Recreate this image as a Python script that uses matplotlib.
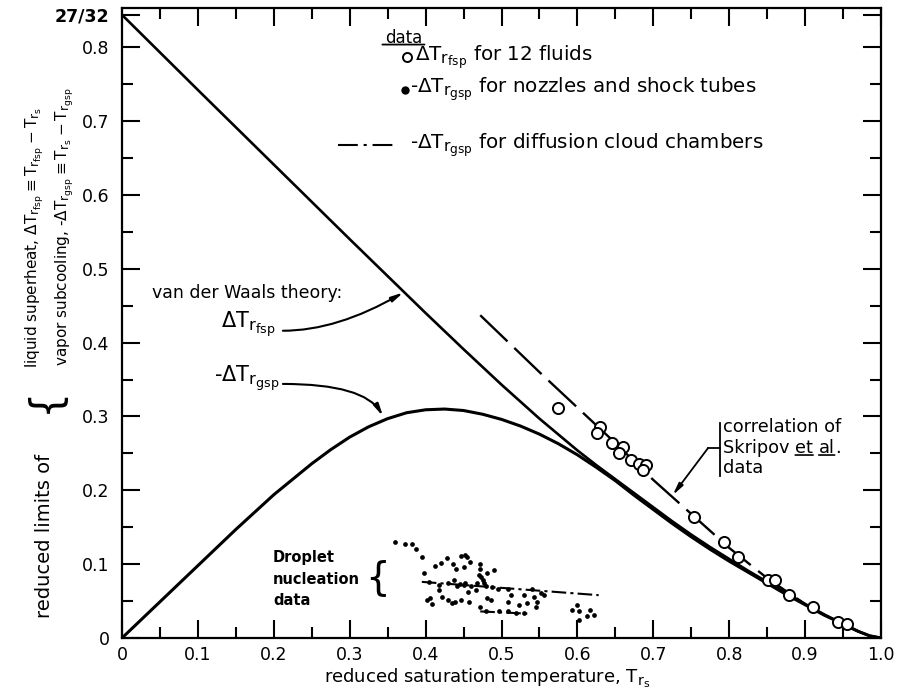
import numpy as np
import matplotlib.pyplot as plt
import matplotlib._mathtext as mathtext_impl

plt.rcParams['font.family'] = 'DejaVu Sans'
plt.rcParams['mathtext.default'] = 'regular'
# the original lettering uses large second-level subscripts
mathtext_impl.SHRINK_FACTOR = 0.78

# van der Waals theory
t_liq = [0, 0.1, 0.2, 0.3, 0.4, 0.45, 0.5, 0.55, 0.6, 0.625, 0.65, 0.675, 0.7, 0.725, 0.75, 0.775,
         0.8, 0.825, 0.85, 0.875, 0.9, 0.925, 0.95, 0.97, 0.985, 1.0]
dT_liq = [0.84375, 0.742, 0.641, 0.540, 0.440, 0.391, 0.343, 0.297, 0.254, 0.234, 0.215, 0.196,
          0.177, 0.158, 0.140, 0.123, 0.107, 0.091, 0.076, 0.061, 0.046, 0.032, 0.019, 0.009,
          0.003, 0.0]
t_vap = [0, 0.05, 0.1, 0.15, 0.2, 0.225, 0.25, 0.275, 0.3, 0.325, 0.35, 0.375, 0.4, 0.425, 0.45,
         0.475, 0.5, 0.525, 0.55, 0.575, 0.6, 0.625, 0.65, 0.675, 0.7, 0.725, 0.75, 0.775, 0.8,
         0.825, 0.85, 0.875, 0.9, 0.925, 0.95, 0.97, 0.985, 1.0]
dT_vap = [0, 0.049, 0.098, 0.147, 0.194, 0.215, 0.236, 0.255, 0.272, 0.286, 0.297, 0.305, 0.309,
          0.310, 0.308, 0.303, 0.296, 0.287, 0.276, 0.263, 0.248, 0.231, 0.213, 0.193, 0.174,
          0.155, 0.137, 0.120, 0.104, 0.089, 0.074, 0.059, 0.045, 0.031, 0.019, 0.009, 0.003, 0.0]

# correlation of Skripov et al. data
t_corr = [0.472, 0.55, 0.60, 0.65, 0.70, 0.75, 0.80, 0.85, 0.90, 0.94, 0.97]
dT_corr = [0.437, 0.360, 0.312, 0.264, 0.214, 0.168, 0.122, 0.081, 0.046, 0.023, 0.009]

# superheat data for 12 fluids
fluid_t = [0.574, 0.630, 0.626, 0.645, 0.660, 0.655, 0.670, 0.681, 0.690, 0.686,
           0.754, 0.793, 0.811, 0.851, 0.860, 0.879, 0.911, 0.943, 0.955]
fluid_dT = [0.312, 0.286, 0.278, 0.264, 0.259, 0.251, 0.241, 0.235, 0.234, 0.228,
            0.164, 0.130, 0.110, 0.079, 0.078, 0.058, 0.042, 0.021, 0.019]

# droplet nucleation data (nozzles and shock tubes)
drop_t = [0.360, 0.373, 0.382, 0.388, 0.395, 0.398, 0.413, 0.420, 0.428, 0.436, 0.446, 0.452, 0.455,
          0.459, 0.450, 0.440, 0.472, 0.481, 0.490, 0.475, 0.477, 0.470, 0.472, 0.473,
          0.405, 0.418, 0.430, 0.437, 0.445, 0.452, 0.460, 0.468, 0.480, 0.488,
          0.417, 0.442, 0.450, 0.466, 0.456, 0.406, 0.402, 0.409, 0.422, 0.430, 0.439, 0.446,
          0.457, 0.435, 0.481, 0.486, 0.472, 0.496, 0.509, 0.512, 0.508, 0.523, 0.534, 0.540,
          0.529, 0.543, 0.547, 0.556, 0.545, 0.552, 0.480, 0.497, 0.508, 0.519, 0.530,
          0.600, 0.593, 0.602, 0.617, 0.613, 0.622, 0.602]
drop_dT = [0.130, 0.127, 0.127, 0.121, 0.110, 0.088, 0.097, 0.101, 0.108, 0.100, 0.111, 0.113, 0.110,
           0.103, 0.096, 0.094, 0.094, 0.088, 0.092, 0.079, 0.074, 0.085, 0.100, 0.083,
           0.076, 0.072, 0.074, 0.078, 0.073, 0.075, 0.071, 0.075, 0.070, 0.069,
           0.065, 0.070, 0.072, 0.065, 0.062, 0.054, 0.051, 0.046, 0.056, 0.051, 0.049, 0.051,
           0.049, 0.047, 0.054, 0.052, 0.042, 0.067, 0.067, 0.058, 0.049, 0.045, 0.047, 0.067,
           0.058, 0.056, 0.049, 0.058, 0.042, 0.061, 0.036, 0.036, 0.036, 0.034, 0.034,
           0.045, 0.038, 0.037, 0.038, 0.030, 0.031, 0.024]

# diffusion cloud chamber lines
cloud1_t = [0.395, 0.628]
cloud1_dT = [0.076, 0.058]
cloud2_t = [0.472, 0.534]
cloud2_dT = [0.036, 0.033]

x_ticks = [0, 0.1, 0.2, 0.3, 0.4, 0.5, 0.6, 0.7, 0.8, 0.9, 1.0]
x_labels = ['0', '0.1', '0.2', '0.3', '0.4', '0.5', '0.6', '0.7', '0.8', '0.9', '1.0']
y_ticks = [0, 0.1, 0.2, 0.3, 0.4, 0.5, 0.6, 0.7, 0.8, 27 / 32]
y_labels = ['0', '0.1', '0.2', '0.3', '0.4', '0.5', '0.6', '0.7', '0.8', '27/32']

W, H = 900, 695
fig = plt.figure(figsize=(9, 6.95), dpi=100)
ax = fig.add_axes([122 / W, 1 - 638 / H, (881 - 122) / W, (638 - 8) / H])

ax.plot(t_liq, dT_liq, color='k', lw=1.9)
ax.plot(t_vap, dT_vap, color='k', lw=2.2)
ax.plot(t_corr, dT_corr, color='k', lw=1.7, dashes=(16, 4))
ax.plot(fluid_t, fluid_dT, 'o', mfc='white', mec='k', ms=8, mew=1.4)
ax.plot(cloud1_t, cloud1_dT, color='k', lw=1.5, dashes=(7, 2, 1.5, 2))
ax.plot(cloud2_t, cloud2_dT, color='k', lw=1.5, dashes=(7, 2, 1.5, 2))
ax.plot(drop_t, drop_dT, 'o', color='k', ms=3.4, mew=0)

ax.set_xlim(0, 1.0)
ax.set_ylim(0, 0.853)
ax.set_xticks(x_ticks)
ax.set_xticklabels(x_labels)
ax.set_xticks(np.arange(0.05, 1.0, 0.1), minor=True)
ax.set_yticks(y_ticks)
ax.set_yticklabels(y_labels)
ax.set_yticks(np.arange(0.05, 0.8, 0.1), minor=True)
ax.get_yticklabels()[-1].set_fontweight('bold')
ax.tick_params(which='both', direction='in', top=True, right=True, width=1.5, labelsize=12.5)
ax.tick_params(which='major', length=13)
ax.tick_params(which='minor', length=8)
ax.tick_params(axis='x', pad=6)
ax.tick_params(axis='y', pad=9)
for s in ax.spines.values():
    s.set_linewidth(1.6)

ax.set_xlabel(r'reduced saturation temperature, $T_{r_s}$', fontsize=13)
ax.xaxis.set_label_coords((487 - 122) / 759, -0.045)

# y label with brace
fig.text(50 / W, 1 - 618 / H, 'reduced limits of', rotation=90, rotation_mode='anchor',
         ha='left', va='baseline', fontsize=14)
fig.text(45 / W, 1 - 400 / H, '{', rotation=90, ha='center', va='center', fontsize=30)
fig.text(37 / W, 1 - 368 / H, r'liquid superheat, $\Delta T_{r_{fsp}} \equiv T_{r_{fsp}} - T_{r_s}$',
         rotation=90, rotation_mode='anchor', ha='left', va='baseline', fontsize=11)
fig.text(67 / W, 1 - 366 / H, r'vapor subcooling, -$\Delta T_{r_{gsp}} \equiv T_{r_s} - T_{r_{gsp}}$',
         rotation=90, rotation_mode='anchor', ha='left', va='baseline', fontsize=11)

# legend block
t_data = ax.text(0.347, 0.806, 'data', fontsize=12, va='baseline')
ax.annotate('', xy=(-0.08, 0.12), xycoords=t_data, xytext=(1.05, 0.12), textcoords=t_data,
            arrowprops=dict(arrowstyle='-', lw=1.3, shrinkA=0, shrinkB=0))
ax.plot([0.375], [0.786], 'o', mfc='white', mec='k', ms=6.5, mew=1.4, clip_on=False)
ax.text(0.386, 0.786, r'$\Delta T_{r_{fsp}}$ for 12 fluids', fontsize=14.3, va='center')
ax.plot([0.373], [0.742], 'o', color='k', ms=5)
ax.text(0.379, 0.742, r'-$\Delta T_{r_{gsp}}$ for nozzles and shock tubes', fontsize=14.3, va='center')
ax.plot([0.284, 0.363], [0.667, 0.667], color='k', lw=1.5, dashes=(9.5, 2.8, 1.5, 2.8))
ax.text(0.379, 0.667, r'-$\Delta T_{r_{gsp}}$ for diffusion cloud chambers', fontsize=14.3, va='center')

# van der Waals labels and arrows
ax.text(0.04, 0.467, 'van der Waals theory:', fontsize=12.5, va='center')
ax.text(0.202, 0.425, r'$\Delta T_{r_{fsp}}$', fontsize=15, ha='right', va='center')
ax.annotate('', xy=(0.371, 0.468), xytext=(0.212, 0.416),
            arrowprops=dict(arrowstyle='-|>,head_length=0.7,head_width=0.15', lw=1.5, color='k',
                            connectionstyle='angle3,angleA=0,angleB=30', shrinkA=0, shrinkB=0))
ax.text(0.208, 0.352, r'-$\Delta T_{r_{gsp}}$', fontsize=15, ha='right', va='center')
ax.annotate('', xy=(0.344, 0.300), xytext=(0.212, 0.344),
            arrowprops=dict(arrowstyle='-|>,head_length=0.7,head_width=0.15', lw=1.5, color='k',
                            connectionstyle='angle3,angleA=0,angleB=-60', shrinkA=0, shrinkB=0))

# Skripov correlation label
fs_sk = 12.8
ax.text(0.792, 0.2855, 'correlation of', fontsize=fs_sk, va='center')
t_sk = ax.text(0.792, 0.257, 'Skripov ', fontsize=fs_sk, va='center')
t_et = ax.annotate('et', xy=(1, 0), xycoords=t_sk, fontsize=fs_sk, va='bottom')
t_sp = ax.annotate(' ', xy=(1, 0), xycoords=t_et, fontsize=fs_sk, va='bottom')
t_al = ax.annotate('al', xy=(1, 0), xycoords=t_sp, fontsize=fs_sk, va='bottom')
ax.annotate('.', xy=(1, 0), xycoords=t_al, fontsize=fs_sk, va='bottom')
for t in (t_et, t_al):
    ax.annotate('', xy=(0, 0.12), xycoords=t, xytext=(1, 0.12), textcoords=t,
                arrowprops=dict(arrowstyle='-', lw=1.2, shrinkA=0, shrinkB=0))
ax.text(0.792, 0.2295, 'data', fontsize=fs_sk, va='center')
ax.plot([0.7876, 0.7876], [0.2192, 0.2910], color='k', lw=1.3)
ax.plot([0.7876, 0.772], [0.257, 0.257], color='k', lw=1.3)
ax.annotate('', xy=(0.7256, 0.1935), xytext=(0.772, 0.257),
            arrowprops=dict(arrowstyle='-|>,head_length=0.7,head_width=0.15', lw=1.3, color='k',
                            shrinkA=0, shrinkB=0))

# droplet nucleation label
ax.text(0.199, 0.0795, 'Droplet\nnucleation\ndata', fontsize=10.5, fontweight='bold',
        va='center', ha='left', linespacing=1.55)
ax.text(0.336, 0.081, '{', fontsize=28, ha='center', va='center')

plt.savefig('out.png', dpi=100)
